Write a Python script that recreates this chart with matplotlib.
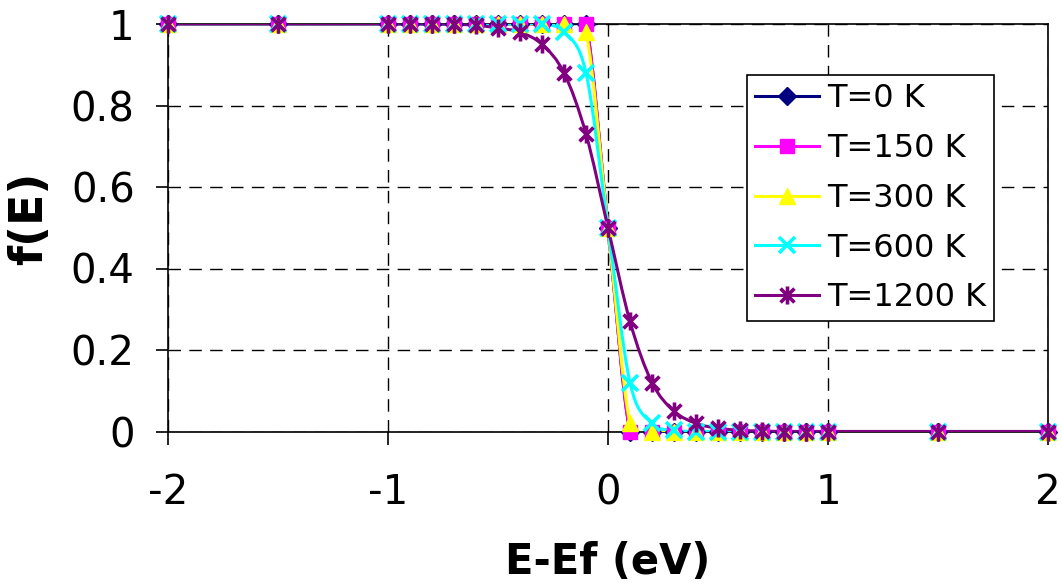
import matplotlib
matplotlib.use("Agg")
import matplotlib.pyplot as plt
import numpy as np
from matplotlib.path import Path
from matplotlib.patches import PathPatch

# energy relative to Fermi level (eV)
x = [-2, -1.5, -1, -0.9, -0.8, -0.7, -0.6, -0.5, -0.4, -0.3, -0.2, -0.1, 0,
     0.1, 0.2, 0.3, 0.4, 0.5, 0.6, 0.7, 0.8, 0.9, 1, 1.5, 2]

f_0 = [1, 1, 1, 1, 1, 1, 1, 1, 1, 1, 1, 1, 0.5,
       0, 0, 0, 0, 0, 0, 0, 0, 0, 0, 0, 0]
f_150 = [1, 1, 1, 1, 1, 1, 1, 1, 1, 1, 1, 1, 0.5,
         0, 0, 0, 0, 0, 0, 0, 0, 0, 0, 0, 0]
f_300 = [1, 1, 1, 1, 1, 1, 1, 1, 1, 1, 1, 0.98, 0.5,
         0.02, 0, 0, 0, 0, 0, 0, 0, 0, 0, 0, 0]
f_600 = [1, 1, 1, 1, 1, 1, 1, 1, 1, 1, 0.98, 0.88, 0.5,
         0.12, 0.02, 0.003, 0, 0, 0, 0, 0, 0, 0, 0, 0]
f_1200 = [1, 1, 1, 1, 1, 0.999, 0.997, 0.99, 0.98, 0.95, 0.88, 0.73, 0.5,
          0.27, 0.12, 0.05, 0.02, 0.008, 0.003, 0.001, 0, 0, 0, 0, 0]

labels = ["T=0 K", "T=150 K", "T=300 K", "T=600 K", "T=1200 K"]
series = [f_0, f_150, f_300, f_600, f_1200]
colors = ["#000080", "#FF00FF", "#FFFF00", "#00FFFF", "#800080"]

# excel style asterisk marker: an x with a vertical bar
star = Path([(-1, -1), (1, 1), (-1, 1), (1, -1), (0, -1.3), (0, 1.3)],
            [Path.MOVETO, Path.LINETO, Path.MOVETO, Path.LINETO,
             Path.MOVETO, Path.LINETO])
markers = ["D", "s", "^", "x", star]
msizes = [9, 10, 11, 11, 13]
mews = [1, 1, 1, 2.6, 2.6]


def smooth_path(xs, ys):
    # bezier through the points, like excel's smoothed line
    p = np.column_stack([xs, ys]).astype(float)
    verts = [p[0]]
    codes = [Path.MOVETO]
    n = len(p)
    for i in range(n - 1):
        p0 = p[i - 1] if i > 0 else p[i]
        p3 = p[i + 2] if i + 2 < n else p[i + 1]
        c1 = p[i] + (p[i + 1] - p0) / 6
        c2 = p[i + 1] - (p3 - p[i]) / 6
        verts += [c1, c2, p[i + 1]]
        codes += [Path.CURVE4] * 3
    return Path(verts, codes)


fig = plt.figure(figsize=(10.62, 5.85), dpi=100)
ax = fig.add_axes([168 / 1062, 1 - 431.5 / 585, 880 / 1062, 407.5 / 585])

handles = []
for ys, lab, c, m, ms, mw in zip(series, labels, colors, markers, msizes, mews):
    # lines are clipped to the plot area, markers are not
    ax.add_patch(PathPatch(smooth_path(x, ys), fill=False, edgecolor=c,
                           lw=2.2, zorder=3))
    ax.plot(x, ys, ls="none", marker=m, ms=ms, mec=c, mfc=c,
            mew=mw, zorder=4, clip_on=False)
    hl, = ax.plot([], [], color=c, lw=2.2, marker=m, ms=ms, mec=c, mfc=c,
                  mew=mw, label=lab)
    handles.append(hl)

ax.set_xlim(-2, 2)
ax.set_ylim(0, 1)
ax.set_xticks([-2, -1, 0, 1, 2])
ax.set_yticks([0, 0.2, 0.4, 0.6, 0.8, 1])
ax.set_xticklabels(["-2", "-1", "0", "1", "2"])
ax.set_yticklabels(["0", "0.2", "0.4", "0.6", "0.8", "1"])
ax.grid(True, color="black", lw=1, ls=(0, (9, 6)), zorder=1)
for s in ax.spines.values():
    s.set_color("black")
    s.set_linewidth(1.2)
ax.tick_params(axis="both", direction="out", length=9, width=1.2,
               labelsize=29, color="black")
ax.tick_params(axis="y", pad=15)
ax.tick_params(axis="x", pad=21)

ax.set_xlabel("E-Ef (eV)", fontsize=30, fontweight="bold")
ax.set_ylabel("f(E)", fontsize=33, fontweight="bold")
ax.xaxis.set_label_coords(0.5, -0.268)
ax.yaxis.set_label_coords(-0.132, 0.524)

leg = ax.legend(handles=handles, loc="upper left",
                bbox_to_anchor=(747 / 1062, 1 - 75 / 585),
                bbox_transform=fig.transFigure, fontsize=23,
                frameon=True, fancybox=False, edgecolor="black",
                framealpha=1, handlelength=2.0, handletextpad=0.25,
                labelspacing=0.59, borderpad=0.25, borderaxespad=0,
                numpoints=1)
leg.get_frame().set_linewidth(1.2)
leg.set_zorder(10)

fig.savefig("out.png", dpi=100)
